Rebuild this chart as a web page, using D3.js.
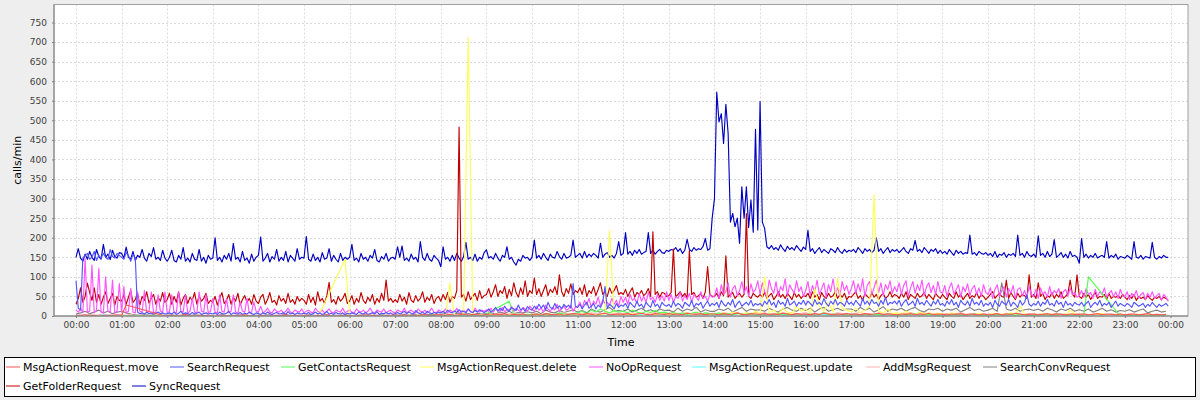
<!DOCTYPE html>
<html><head><meta charset="utf-8">
<script src="https://cdn.jsdelivr.net/npm/d3@7/dist/d3.min.js"></script>
<style>
body{margin:0;background:#eeeeee}
svg{display:block}
text{font-family:"DejaVu Sans",sans-serif}
</style>
</head><body>
<svg id="chart" width="1200" height="400"></svg>
<script>
// ---------------- DATA ----------------
const seriesNames = ["MsgActionRequest.move","SearchRequest","GetContactsRequest","MsgActionRequest.delete","NoOpRequest","MsgActionRequest.update","AddMsgRequest","SearchConvRequest","GetFolderRequest","SyncRequest"];
const seriesColors = ["#FF5555","#5555FF","#55FF55","#FFFF55","#FF55FF","#55FFFF","#FFAFAF","#808080","#C00000","#0000C0"];
const yTickValues = [0,50,100,150,200,250,300,350,400,450,500,550,600,650,700,750];
const xTickLabels = ["00:00","01:00","02:00","03:00","04:00","05:00","06:00","07:00","08:00","09:00","10:00","11:00","12:00","13:00","14:00","15:00","16:00","17:00","18:00","19:00","20:00","21:00","22:00","23:00","00:00"];
const yAxisTitle = "calls/min";
const xAxisTitle = "Time";

// 3-minute samples (20 per hour)
const syncRequest = [
150,172,148,140,158,145,165,150,142,170,152,145,183,150,158,144,168,152,148,162,
160,148,176,150,145,165,142,155,150,170,148,140,160,152,175,145,150,142,168,148,
140,150,168,142,138,155,145,175,140,148,138,160,145,142,170,140,150,135,155,145,
148,200,142,150,138,155,145,160,140,186,145,150,138,165,142,148,135,158,140,150,
155,202,140,148,160,138,152,145,170,140,150,142,165,138,155,148,140,172,145,150,
148,203,145,140,158,142,150,138,162,145,148,172,140,155,145,138,160,142,150,145,
150,183,142,148,138,160,145,150,140,155,148,170,142,138,152,145,160,140,148,150,
145,177,150,179,142,148,140,158,145,150,138,190,150,142,160,145,140,155,148,142,
126,177,145,150,140,155,142,160,148,140,152,188,145,150,142,158,140,150,145,162,
169,148,152,145,160,148,140,155,150,177,145,150,138,130,145,140,155,148,150,142,
150,194,148,155,145,160,150,142,158,150,148,165,152,145,160,148,150,155,194,150,
155,160,148,165,150,158,152,160,155,148,186,150,158,162,150,155,148,160,190,155,
160,213,158,165,155,168,160,170,158,162,165,213,160,168,158,165,170,162,160,168,
165,170,168,175,165,172,160,168,196,170,165,175,168,172,170,178,198,168,172,250,
300,572,496,517,441,541,466,240,262,228,250,186,330,250,330,226,296,214,477,220,
548,240,224,177,172,180,170,175,168,182,172,165,178,170,175,168,180,172,165,176,
170,219,165,172,160,168,175,162,170,165,160,172,168,162,175,165,160,170,163,168,
165,170,162,175,168,160,172,165,170,162,168,200,165,172,160,168,175,162,170,165,
170,162,168,175,165,160,172,168,193,165,170,162,175,168,160,170,165,172,160,168,
160,165,158,170,162,155,168,160,165,158,162,160,207,158,162,155,165,160,158,162,
155,160,152,165,150,158,155,162,150,158,155,160,152,207,155,160,150,165,155,152,
158,150,205,155,160,150,165,152,158,195,150,155,162,150,158,148,165,152,155,150,
135,198,150,158,148,155,150,160,148,152,155,150,190,148,155,150,158,145,152,150,
148,155,150,145,190,150,148,155,145,152,150,148,188,150,145,152,148,155,150,150
];
const getFolderRequest = [
30,45,72,35,50,84,60,40,72,35,55,30,48,62,32,45,58,28,50,40,
38,55,30,48,65,35,42,58,28,50,40,62,33,45,55,30,48,38,60,35,
42,58,30,50,35,62,28,45,55,32,48,40,60,30,52,38,45,58,32,40,
35,50,28,45,60,32,40,55,30,48,38,58,28,42,52,35,45,30,55,38,
32,48,55,30,42,60,35,40,28,52,38,45,32,58,35,42,30,50,38,45,
40,30,55,35,48,28,62,38,45,32,52,86,35,42,30,50,38,45,58,32,
38,52,30,45,35,60,40,32,48,38,55,30,45,35,58,40,92,38,45,35,
42,35,55,38,48,30,60,40,35,52,38,45,62,35,48,40,55,32,45,50,
38,55,42,60,35,50,45,65,483,48,55,38,62,42,50,58,40,65,45,52,
55,70,48,62,80,50,65,58,75,45,68,52,85,60,48,72,55,90,50,65,
58,97,55,70,50,65,80,52,68,60,75,55,105,62,50,70,58,82,55,65,
60,72,55,80,50,65,58,75,52,68,85,55,62,50,72,58,65,78,55,60,
55,68,50,62,72,48,60,55,65,52,58,70,50,215,55,62,48,60,58,50,
52,60,171,48,55,62,50,58,45,167,55,60,48,52,58,45,62,126,55,50,
50,58,45,62,52,154,48,55,60,45,52,58,48,55,262,50,45,58,52,48,
55,48,60,45,52,58,42,50,62,48,55,45,58,50,42,60,48,55,45,52,
50,58,45,62,48,55,42,60,50,45,58,48,52,62,45,55,48,58,42,50,
48,55,62,45,52,40,58,50,45,60,48,55,42,52,58,45,50,62,48,55,
52,45,58,48,62,42,55,50,45,58,48,52,60,45,55,48,42,58,50,45,
55,48,42,58,50,45,62,48,55,42,50,58,45,52,48,60,45,55,50,42,
48,55,62,45,52,58,50,48,92,45,60,50,42,58,48,55,52,45,105,48,
55,45,85,50,58,42,52,48,60,45,55,48,62,45,50,58,92,55,48,105,
50,45,58,48,55,42,52,60,45,50,48,55,42,58,45,50,48,52,45,55,
48,42,52,45,55,40,50,45,48,42,52,45,40,48,45,50,42,48,45,40
];
const noOpRequest = [
15,10,20,8,147,10,12,130,8,15,122,10,8,100,12,10,92,8,12,83,
10,75,8,12,71,10,8,62,12,10,65,8,12,62,10,8,54,12,10,62,
8,12,54,10,8,62,12,10,54,8,12,45,10,8,62,12,10,54,8,12,
45,10,8,54,12,10,45,8,12,54,10,8,36,12,10,45,8,10,36,12,
10,25,8,12,20,10,8,18,12,10,15,8,12,20,10,8,15,12,10,18,
8,12,15,10,8,20,12,10,15,8,12,18,10,8,15,12,10,20,8,12,
15,10,8,18,12,10,15,8,12,20,10,8,15,12,10,18,8,12,15,10,
8,15,12,10,20,8,12,15,10,8,18,12,10,15,8,12,20,10,8,15,
12,10,18,8,15,12,10,20,8,12,15,10,18,12,8,20,12,10,15,12,
15,12,20,10,18,15,12,22,10,18,15,25,12,20,15,10,22,18,12,25,
18,12,25,15,20,10,28,18,12,22,15,30,12,20,25,15,18,28,12,22,
25,35,20,40,28,45,22,38,30,48,25,42,32,35,28,45,30,40,25,50,
35,48,30,55,40,45,32,58,38,50,35,60,42,48,35,55,40,52,38,62,
40,55,35,50,45,60,38,52,42,58,35,55,48,40,62,45,50,38,55,48,
50,72,45,80,55,62,85,48,70,78,52,65,88,58,75,50,82,60,68,90,
55,85,62,48,92,70,58,88,50,75,65,95,52,80,68,58,90,62,75,50,
65,88,52,78,60,92,55,70,85,48,80,62,95,58,72,50,88,65,78,55,
70,90,58,82,62,95,50,78,88,55,72,92,60,85,52,80,68,90,58,75,
62,85,55,78,90,50,72,88,58,80,65,92,52,75,85,60,78,55,88,62,
58,78,50,72,85,55,68,80,48,75,62,82,52,70,78,55,72,50,80,60,
55,72,45,68,80,50,65,75,48,70,58,78,45,68,72,52,65,48,75,55,
50,68,45,72,55,62,48,75,52,65,58,70,45,62,68,50,72,55,60,48,
52,65,48,70,55,60,45,68,50,62,55,72,48,58,65,50,62,45,68,52,
48,62,42,58,50,65,45,55,60,42,58,48,62,45,52,58,40,55,48,38
];
const searchRequest = [
90,20,15,148,155,160,145,150,165,142,155,148,160,150,145,170,152,148,160,155,
150,145,162,155,140,158,148,10,6,8,5,10,6,8,5,7,10,6,8,5,
6,8,5,10,4,7,12,5,8,6,4,9,5,7,10,4,6,8,5,7,
5,8,4,10,6,5,7,12,4,8,6,5,9,4,7,5,10,6,4,8,
6,4,8,5,10,6,4,7,9,5,6,8,4,11,5,7,4,8,6,5,
7,5,9,4,6,10,5,8,4,6,12,5,7,4,9,6,5,8,4,7,
5,8,6,4,10,7,5,9,4,6,8,5,11,4,7,6,9,5,8,4,
6,9,5,8,12,6,10,7,5,14,8,6,10,5,12,8,6,9,7,10,
8,12,7,15,10,8,13,9,16,10,12,8,18,11,9,14,10,16,12,9,
12,18,10,15,22,12,20,14,25,16,12,22,18,14,28,15,20,12,24,18,
15,25,18,30,20,28,16,35,22,18,32,20,26,18,30,22,28,20,83,25,
22,30,18,28,35,20,25,32,18,28,22,35,75,20,30,25,18,32,22,28,
25,32,20,35,28,22,38,25,30,20,35,28,22,40,25,30,20,35,28,25,
30,22,38,25,32,28,20,35,30,25,40,22,32,28,35,20,30,38,25,32,
28,35,22,40,30,25,35,28,42,22,32,38,25,30,35,28,40,25,32,28,
32,25,38,30,42,28,35,22,40,30,35,25,45,28,32,38,25,35,30,40,
28,38,32,25,42,30,35,28,45,32,25,38,30,42,28,35,32,25,40,30,
35,28,40,32,25,45,30,38,28,42,32,35,25,40,30,48,28,35,32,38,
30,40,25,35,42,28,32,38,25,45,30,35,28,40,32,25,38,30,42,28,
32,25,38,30,42,28,35,22,40,32,28,38,25,45,30,35,28,40,25,32,
28,35,22,40,30,25,38,32,28,42,25,35,30,22,40,28,35,54,30,25,
32,28,38,25,35,30,42,28,32,25,40,30,35,22,38,28,32,25,35,30,
28,35,25,32,38,22,30,35,28,40,25,32,28,35,22,30,38,25,32,28,
25,32,28,22,35,30,25,28,32,22,30,25,35,28,22,30,25,28,32,25
];
// 6-minute samples (10 per hour), null = no sample
const searchConvRequest = [
5,8,12,6,10,15,8,12,6,10, 12,8,5,3,2,4,2,3,1,2, 2,3,1,2,4,1,3,2,1,2, 1,2,3,1,2,1,3,2,1,2,
2,1,3,2,1,2,4,1,2,1, 1,3,2,1,2,3,1,2,1,3, 2,1,2,3,1,2,1,3,2,1, 3,2,4,2,5,3,2,4,3,5,
4,6,3,5,8,4,6,3,7,5, 6,8,5,10,7,12,6,9,8,11, 8,12,6,15,10,8,14,9,12,16, 10,14,8,18,12,10,16,22,12,14,
12,18,10,15,20,12,16,10,18,14, 15,10,20,12,18,14,22,10,16,12, 12,18,14,20,10,16,22,12,18,15, 16,12,20,14,10,18,22,15,12,20,
14,20,10,18,22,12,16,20,14,18, 18,12,22,15,20,10,16,24,12,18, 15,20,12,18,22,14,10,18,16,20, 12,18,15,20,10,16,22,14,18,12,
15,20,12,85,18,14,20,12,16,18, 14,18,12,20,16,10,18,14,20,12, 16,12,18,10,14,20,12,16,10,14, 12,16,10,14,18,8,12,15,10,12
];
const msgActionMove = [
2,1,3,1,2,0,1,2,1,3, 2,28,null,null,null,null,null,null,null,2, 1,2,0,1,3,1,0,2,1,2, 0,1,2,1,0,2,1,3,1,0,
1,2,0,1,2,1,3,0,1,2, 2,1,0,2,1,3,1,0,2,1, 1,0,2,1,3,1,2,0,1,2, 2,1,3,0,2,1,4,2,1,3,
3,2,4,1,3,5,2,4,3,2, 4,2,5,3,6,2,4,3,5,2, 3,5,2,6,4,3,5,2,4,6, 5,3,6,4,2,5,7,3,4,5,
4,6,3,5,7,4,3,6,5,4, 6,4,5,3,7,5,4,6,3,5, 5,3,6,4,5,8,4,3,6,5, 4,6,3,5,4,7,5,3,6,4,
5,3,6,4,7,5,3,5,4,6, 4,5,3,6,4,5,7,3,5,4, 3,5,4,6,3,5,4,7,3,5, 4,3,5,4,6,3,5,4,3,5,
3,4,6,3,5,4,7,5,3,4, 5,3,4,6,3,5,4,3,5,4, 4,5,3,4,6,3,5,4,3,5, 3,4,5,3,4,6,3,4,3,4
];
const getContactsRequest = [
0,1,0,0,1,0,0,1,0,0, 0,0,1,0,0,0,1,0,0,0, 0,1,0,0,0,1,0,0,1,0, 0,0,1,0,0,1,0,0,0,1,
0,1,0,0,1,0,0,0,1,0, 0,0,0,1,0,0,1,0,0,0, 1,0,0,0,1,0,0,1,0,0, 0,1,0,2,0,1,0,0,2,1,
1,0,2,1,0,3,1,2,0,1, 5,null,null,null,null,38,3,5,2,4, 3,5,2,6,4,3,8,5,4,6, 8,12,6,15,10,18,12,8,14,10,
12,8,15,10,6,12,9,14,8,10, 6,9,5,8,4,7,10,5,8,6, 5,8,4,6,3,7,5,4,6,3, 4,2,5,3,6,2,4,3,5,2,
3,5,2,4,8,3,5,2,4,3, 2,4,3,5,2,3,4,2,5,3, 3,2,4,3,5,2,3,4,2,3, 2,3,2,4,3,2,3,5,2,3,
2,3,4,2,3,5,2,4,3,2, 3,2,4,3,2,3,5,2,3,2, 2,2,100,null,null,null,null,null,null,0, 1,0,2,1,0,1,2,0,1,0
];
const msgActionDelete = [
1,0,2,0,1,0,0,1,0,2, 0,1,0,0,2,0,1,0,0,1, 0,0,1,0,0,1,0,0,1,0, 1,0,0,1,0,0,2,0,0,1,
0,1,0,0,1,0,0,1,0,0, 1,0,0,2,20,null,null,null,null,145, 0,1,0,0,2,0,1,0,0,1, 0,2,0,1,0,3,0,1,0,2,
1,0,84,0,2,5,712,5,1,3, 2,4,1,3,2,5,1,3,2,4, 3,1,4,2,5,1,3,2,4,1, 2,5,3,1,4,2,6,217,3,2,
4,2,6,3,8,2,5,3,7,4, 3,6,2,5,8,3,4,7,2,5, 5,3,8,4,10,6,3,9,5,12, 6,100,8,15,5,20,10,6,25,12,
18,8,70,25,12,35,10,97,20,15, 10,20,8,15,25,310,12,8,18,6, 8,5,12,6,3,10,5,8,4,6, 5,3,8,4,6,2,5,3,7,4,
3,6,2,5,4,8,3,25,5,3, 4,2,6,3,5,2,4,3,15,6, 3,5,2,4,3,6,2,4,3,5, 2,4,3,5,2,3,4,2,3,2
];
const msgActionUpdate = [
0,1,0,2,1,0,3,1,0,1, 1,0,2,0,1,0,1,0,2,0, 0,1,0,0,1,0,0,1,0,0, 1,0,0,1,0,0,1,0,0,1,
0,0,1,0,0,1,0,0,0,1, 0,1,0,0,0,1,0,1,0,0, 1,0,0,1,0,0,0,1,0,0, 0,1,0,1,0,2,0,1,0,1,
1,0,2,1,0,1,2,0,1,2, 2,1,3,0,2,1,3,2,1,2, 1,3,2,4,1,2,3,1,2,3, 2,4,1,3,2,5,2,3,1,4,
3,2,4,2,5,3,2,4,3,2, 2,4,3,5,2,3,4,2,3,4, 3,2,4,3,2,5,3,2,4,3, 2,4,3,2,5,3,4,2,3,4,
3,2,5,3,4,2,3,5,2,3, 4,3,2,4,3,5,2,3,4,2, 3,4,2,3,5,2,4,3,2,3, 2,3,4,2,3,2,4,3,2,3,
3,2,3,4,2,3,2,4,3,2, 2,4,2,3,2,4,3,2,3,2, 3,2,4,2,3,2,3,4,2,3, 2,3,2,3,2,4,2,3,2,2
];
const addMsgRequest = [
2,3,1,4,2,3,5,2,3,1, 3,2,4,1,2,3,1,2,3,2, 1,2,1,3,1,2,1,2,1,1, 2,1,1,2,1,1,2,1,1,2,
1,1,2,1,1,2,1,1,2,1, 1,2,1,1,2,1,1,2,1,1, 2,1,1,2,1,1,2,1,2,1, 1,2,2,3,1,2,3,2,1,3,
2,3,4,2,3,5,2,4,3,2, 3,5,4,6,3,5,7,4,5,3, 4,6,3,7,5,4,6,8,5,4, 5,7,4,8,6,5,9,4,6,7,
6,4,8,5,7,4,6,9,5,6, 5,8,4,6,9,5,7,4,8,6, 7,5,9,6,4,8,6,5,7,9, 6,8,5,7,4,9,6,8,5,7,
8,5,7,4,9,6,5,8,6,4, 5,7,9,5,6,4,8,6,7,5, 6,4,7,9,5,6,8,4,6,7, 5,7,4,6,8,5,4,7,5,6,
4,6,5,3,7,4,6,5,4,6, 5,4,6,3,5,7,4,5,3,6, 4,6,3,5,4,6,3,5,4,5, 3,5,4,3,5,4,3,4,3,3
];

// ---------------- CHART ----------------
const svg = d3.select("#chart");
const W = 1200, H = 400;
const plot = {left: 54, right: 1188, top: 4.5, bottom: 316};
const T0 = new Date(2012, 0, 1, 0, 0);
const T1 = new Date(2012, 0, 2, 0, 0);
const x = d3.scaleTime().domain([T0, T1]).range([76, 1170.5]);
const y = d3.scaleLinear().domain([0, 796]).range([plot.bottom, plot.top]);

svg.append("rect").attr("width", W).attr("height", H).attr("fill", "#eeeeee");
svg.append("rect").attr("x", plot.left).attr("y", plot.top)
  .attr("width", plot.right - plot.left).attr("height", plot.bottom - plot.top)
  .attr("fill", "#ffffff");

const hourTicks = xTickLabels.map((_, i) => new Date(+T0 + i * 3600000));

// gridlines
const grid = svg.append("g").attr("stroke", "#dadada").attr("stroke-width", 1).attr("stroke-dasharray", "2,2");
grid.selectAll("line.v").data(hourTicks).join("line")
  .attr("x1", d => Math.round(x(d)) + 0.5).attr("x2", d => Math.round(x(d)) + 0.5).attr("y1", plot.top).attr("y2", plot.bottom);
grid.selectAll("line.h").data(yTickValues).join("line")
  .attr("x1", plot.left).attr("x2", plot.right).attr("y1", d => Math.round(y(d)) + 0.5).attr("y2", d => Math.round(y(d)) + 0.5);

// series
const toPoints = (vals, step) => vals.map((v, i) => ({t: new Date(+T0 + i * step * 60000), v}))
  .filter(d => d.v !== null);
const seriesData = [
  toPoints(msgActionMove, 6), toPoints(searchRequest, 3), toPoints(getContactsRequest, 6),
  toPoints(msgActionDelete, 6), toPoints(noOpRequest, 3), toPoints(msgActionUpdate, 6),
  toPoints(addMsgRequest, 6), toPoints(searchConvRequest, 6), toPoints(getFolderRequest, 3),
  toPoints(syncRequest, 3)
];
svg.append("clipPath").attr("id", "clip").append("rect")
  .attr("x", plot.left).attr("y", plot.top).attr("width", plot.right - plot.left).attr("height", plot.bottom - plot.top);
const line = d3.line().x(d => x(d.t)).y(d => y(d.v));
const lines = svg.append("g").attr("clip-path", "url(#clip)");
for (let s = seriesData.length - 1; s >= 0; s--) {
  lines.append("path").datum(seriesData[s]).attr("d", line)
    .attr("fill", "none").attr("stroke", seriesColors[s]).attr("stroke-width", 1.15)
    .attr("stroke-linejoin", "round");
}

// outline
svg.append("rect").attr("x", plot.left).attr("y", plot.top)
  .attr("width", plot.right - plot.left).attr("height", plot.bottom - plot.top)
  .attr("fill", "none").attr("stroke", "#a0a0a0").attr("stroke-width", 1);

// axes
const yAxis = svg.append("g").attr("transform", `translate(${plot.left},0)`)
  .call(d3.axisLeft(y).tickValues(yTickValues).tickSize(2).tickPadding(5).tickSizeOuter(0));
const xAxis = svg.append("g").attr("transform", `translate(0,${plot.bottom})`)
  .call(d3.axisBottom(x).tickValues(hourTicks).tickFormat((d, i) => xTickLabels[i]).tickSize(2).tickPadding(4).tickSizeOuter(0));
[yAxis, xAxis].forEach(a => {
  a.select(".domain").remove();
  a.selectAll(".tick line").attr("stroke", "#808080");
  a.selectAll(".tick text").attr("fill", "#404040").style("font-size", "9px").style("font-family", "DejaVu Sans, sans-serif");
});
svg.append("line").attr("x1", plot.left).attr("x2", plot.left).attr("y1", plot.top).attr("y2", plot.bottom).attr("stroke", "#808080");
svg.append("line").attr("x1", plot.left).attr("x2", plot.right).attr("y1", plot.bottom).attr("y2", plot.bottom).attr("stroke", "#808080");

svg.append("text").attr("transform", `translate(21,${(plot.top + plot.bottom) / 2}) rotate(-90)`)
  .attr("text-anchor", "middle").style("font-size", "11px").attr("fill", "#000").text(yAxisTitle);
svg.append("text").attr("x", (plot.left + plot.right) / 2).attr("y", 346)
  .attr("text-anchor", "middle").style("font-size", "11px").attr("fill", "#000").text(xAxisTitle);

// legend
svg.append("rect").attr("x", 4.5).attr("y", 357.5).attr("width", 1191).attr("height", 39)
  .attr("fill", "#fff").attr("stroke", "#000");
const legendTextX = [23, 187, 298, 437, 606, 709, 883, 1000, 23, 149];
const legendRowY = [371, 390];
seriesNames.forEach((name, i) => {
  const row = i < 8 ? 0 : 1;
  const tx = legendTextX[i], by = legendRowY[row];
  svg.append("line").attr("x1", tx - 17).attr("x2", tx - 3).attr("y1", by - 4).attr("y2", by - 4)
    .attr("stroke", seriesColors[i]).attr("stroke-width", 1);
  svg.append("text").attr("x", tx).attr("y", by).style("font-size", "11px").attr("fill", "#000").text(name);
});
</script>
</body></html>
